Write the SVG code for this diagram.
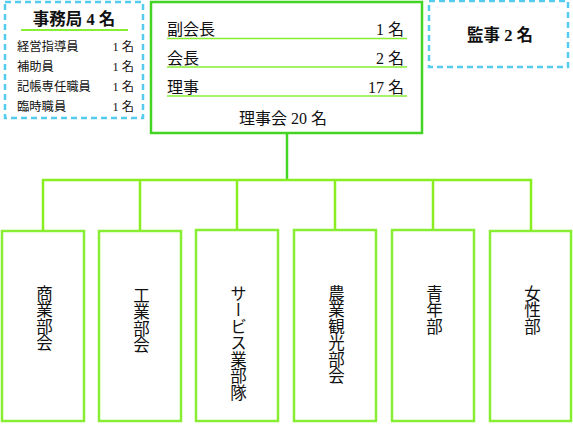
<svg xmlns="http://www.w3.org/2000/svg" width="573" height="424" viewBox="0 0 573 424">
<style>
text{font-family:"Liberation Serif","Noto Sans CJK JP",serif;fill:#111}
.dash{fill:#fff;stroke:#55ccee;stroke-width:2.5;stroke-dasharray:6 4}
.main{fill:#fff;stroke:#44d424;stroke-width:2.5}
.dept{fill:#fff;stroke:#88ee33;stroke-width:2.5}
.ul{stroke:#88ee33;stroke-width:1.5}
.conn{fill:none;stroke:#88ee22;stroke-width:2.5}
.vt{writing-mode:vertical-rl;font-size:16.5px}
.s12{font-size:12.3px}
.s15{font-size:16.5px;font-weight:bold}
.s14{font-size:16px}
</style>
<g id="connectors">
<line x1="287" y1="133" x2="287" y2="180" class="conn" style="stroke:#44d424"/>
<path class="conn" d="M43 231V180H531V231M140 180V231M237 180V231M335 180V231M433 180V231"/>
</g>
<g id="jimukyoku">
<rect x="5" y="2" width="138" height="116" class="dash"/>
<text x="74" y="25" class="s15" text-anchor="middle">事務局 4 名</text>
<line x1="21" y1="30" x2="128" y2="30" class="ul" style="stroke-width:2"/>
<text x="17" y="51" class="s12">経営指導員</text><text x="134" y="51" class="s12" text-anchor="end">1 名</text>
<text x="17" y="71" class="s12">補助員</text><text x="134" y="71" class="s12" text-anchor="end">1 名</text>
<text x="17" y="91" class="s12">記帳専任職員</text><text x="134" y="91" class="s12" text-anchor="end">1 名</text>
<text x="17" y="111" class="s12">臨時職員</text><text x="134" y="111" class="s12" text-anchor="end">1 名</text>
</g>
<g id="rijikai">
<rect x="151" y="2" width="271" height="131" class="main"/>
<text x="167" y="35" class="s14">副会長</text><text x="404" y="35" class="s14" text-anchor="end">1 名</text>
<line x1="167" y1="38.5" x2="407" y2="38.5" class="ul"/>
<text x="167" y="64" class="s14">会長</text><text x="404" y="64" class="s14" text-anchor="end">2 名</text>
<line x1="167" y1="67" x2="407" y2="67" class="ul"/>
<text x="167" y="93" class="s14">理事</text><text x="404" y="93" class="s14" text-anchor="end">17 名</text>
<line x1="167" y1="96" x2="407" y2="96" class="ul"/>
<text x="283" y="124" class="s14" text-anchor="middle">理事会 20 名</text>
</g>
<g id="kanji">
<rect x="429" y="1" width="139" height="66" class="dash"/>
<text x="500" y="41" class="s15" text-anchor="middle">監事 2 名</text>
</g>
<g id="shogyo"><rect x="2" y="231" width="82" height="190" class="dept"/><text x="43" y="285" class="vt">商業部会</text></g>
<g id="kogyo"><rect x="99" y="231" width="82" height="190" class="dept"/><text x="140" y="287" class="vt">工業部会</text></g>
<g id="service"><rect x="196" y="230" width="82" height="191" class="dept"/><text x="237" y="285" class="vt">サービス業部隊</text></g>
<g id="nogyo"><rect x="294" y="230" width="82" height="191" class="dept"/><text x="335" y="285" class="vt">農業観光部会</text></g>
<g id="seinen"><rect x="392" y="230" width="82" height="191" class="dept"/><text x="433" y="285" class="vt">青年部</text></g>
<g id="josei"><rect x="490" y="231" width="81" height="190" class="dept"/><text x="531" y="285" class="vt">女性部</text></g>
</svg>
